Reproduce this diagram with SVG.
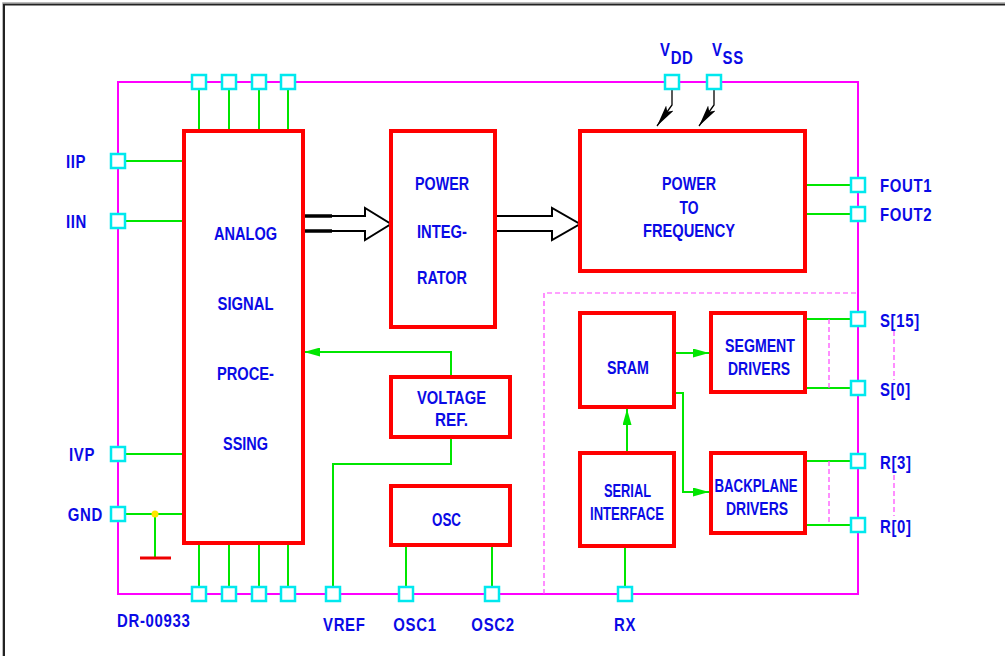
<svg xmlns="http://www.w3.org/2000/svg" width="1005" height="656" viewBox="0 0 1005 656">
<defs>
<style>
.t{font-family:"Liberation Sans",Arial,sans-serif;font-weight:bold;font-size:18px;fill:#0a0ae6;letter-spacing:0.8px}
.b{font-family:"Liberation Sans",Arial,sans-serif;font-weight:bold;font-size:18px;fill:#0a0ae6;text-anchor:middle}
.c{text-anchor:middle}
.e{text-anchor:end}
.blk{fill:#fff;stroke:#ff0000;stroke-width:4}
.pin{fill:#fff;stroke:#00e8ee;stroke-width:2.5}
.g{stroke:#00e600;stroke-width:2;fill:none}
.m{stroke:#ff00ff;stroke-width:2;fill:none}
.md{stroke:#ff44ff;stroke-width:1.2;fill:none;stroke-dasharray:5 3}
.ha{fill:#fff;stroke:#000;stroke-width:2}
</style>
<marker id="ga" viewBox="0 0 10 10" refX="10" refY="5" markerWidth="16" markerHeight="9" markerUnits="userSpaceOnUse" orient="auto" preserveAspectRatio="none"><path d="M0,0 L10,5 L0,10 z" fill="#00e600"/></marker>
<marker id="ka" viewBox="0 0 10 10" refX="10" refY="5" markerWidth="22" markerHeight="9" markerUnits="userSpaceOnUse" orient="auto" preserveAspectRatio="none"><path d="M0,0 L10,5 L0,10 L2,5 z" fill="#000"/></marker>
</defs>
<rect width="1005" height="656" fill="#fff"/>
<path d="M4,656 V4.5 H1005" fill="none" stroke="#222" stroke-width="2"/>
<path d="M2.5,656 V2.5 H1005" fill="none" stroke="#bbb" stroke-width="1"/>
<!-- chip outline -->
<rect x="118" y="82" width="740" height="512" class="m"/>
<path d="M544,594 V293 H858" class="md"/>

<g id="connectors">
<line x1="199" y1="89" x2="199" y2="131" class="g" stroke-width="1.5"/>
<line x1="229" y1="89" x2="229" y2="131" class="g"/>
<line x1="259" y1="89" x2="259" y2="131" class="g"/>
<line x1="288" y1="89" x2="288" y2="131" class="g"/>
<line x1="199" y1="543" x2="199" y2="587" class="g"/>
<line x1="229" y1="543" x2="229" y2="587" class="g"/>
<line x1="259" y1="543" x2="259" y2="587" class="g"/>
<line x1="288" y1="543" x2="288" y2="587" class="g"/>
<line x1="125" y1="161" x2="184" y2="161" class="g"/>
<line x1="125" y1="221" x2="184" y2="221" class="g"/>
<line x1="125" y1="454" x2="184" y2="454" class="g"/>
<line x1="125" y1="514" x2="184" y2="514" class="g"/>
<line x1="155" y1="514" x2="155" y2="558" class="g"/>
<line x1="140" y1="558" x2="171" y2="558" stroke="#ee0000" stroke-width="3"/>
<circle cx="155" cy="514" r="3.5" fill="#ffe600"/>
<polyline points="303,216 365,216 365,208 391,224 365,240 365,231 303,231" class="ha"/>
<line x1="303" y1="216" x2="332" y2="216" stroke="#000" stroke-width="3.5"/>
<line x1="303" y1="231" x2="332" y2="231" stroke="#000" stroke-width="3.5"/>
<polyline points="495,216 552,216 552,208 580,224 552,240 552,231 495,231" class="ha"/>
<polyline points="672,89 672,105 657,126" fill="none" stroke="#000" stroke-width="1.3" marker-end="url(#ka)"/>
<polyline points="714,89 714,105 699,126" fill="none" stroke="#000" stroke-width="1.3" marker-end="url(#ka)"/>
<line x1="805" y1="185" x2="851" y2="185" class="g"/>
<line x1="805" y1="214" x2="851" y2="214" class="g"/>
<polyline points="451,377 451,352 304,352" class="g" stroke-width="1.5" marker-end="url(#ga)"/>
<polyline points="451,437 451,464 333,464 333,587" class="g"/>
<line x1="406" y1="545" x2="406" y2="587" class="g"/>
<line x1="492" y1="545" x2="492" y2="587" class="g"/>
<line x1="627" y1="453" x2="627" y2="409" class="g" stroke-width="1.5" marker-end="url(#ga)"/>
<line x1="625" y1="546" x2="625" y2="587" class="g"/>
<line x1="674" y1="353" x2="709" y2="353" class="g" stroke-width="1.5" marker-end="url(#ga)"/>
<polyline points="674,393 683,393 683,492 709,492" class="g" stroke-width="1.3" marker-end="url(#ga)"/>
<line x1="805" y1="319" x2="851" y2="319" class="g"/>
<line x1="805" y1="388" x2="851" y2="388" class="g"/>
<line x1="805" y1="461" x2="851" y2="461" class="g"/>
<line x1="805" y1="525" x2="851" y2="525" class="g"/>
<line x1="829" y1="319" x2="829" y2="388" class="md"/>
<line x1="829" y1="461" x2="829" y2="525" class="md"/>
<line x1="894" y1="331" x2="894" y2="380" class="md"/>
<line x1="894" y1="475" x2="894" y2="516" class="md"/>
</g>

<g id="pins">
<rect x="192" y="75" width="14" height="14" class="pin"/>
<rect x="222" y="75" width="14" height="14" class="pin"/>
<rect x="252" y="75" width="14" height="14" class="pin"/>
<rect x="281" y="75" width="14" height="14" class="pin"/>
<rect x="665" y="75" width="14" height="14" class="pin"/>
<rect x="707" y="75" width="14" height="14" class="pin"/>
<rect x="111" y="154" width="14" height="14" class="pin"/>
<rect x="111" y="214" width="14" height="14" class="pin"/>
<rect x="111" y="447" width="14" height="14" class="pin"/>
<rect x="111" y="507" width="14" height="14" class="pin"/>
<rect x="192" y="587" width="14" height="14" class="pin"/>
<rect x="222" y="587" width="14" height="14" class="pin"/>
<rect x="252" y="587" width="14" height="14" class="pin"/>
<rect x="281" y="587" width="14" height="14" class="pin"/>
<rect x="326" y="587" width="14" height="14" class="pin"/>
<rect x="399" y="587" width="14" height="14" class="pin"/>
<rect x="485" y="587" width="14" height="14" class="pin"/>
<rect x="618" y="587" width="14" height="14" class="pin"/>
<rect x="851" y="178" width="14" height="14" class="pin"/>
<rect x="851" y="207" width="14" height="14" class="pin"/>
<rect x="851" y="312" width="14" height="14" class="pin"/>
<rect x="851" y="381" width="14" height="14" class="pin"/>
<rect x="851" y="454" width="14" height="14" class="pin"/>
<rect x="851" y="518" width="14" height="14" class="pin"/>
</g>

<g id="asp">
<rect x="184" y="131" width="119" height="412" class="blk"/>
<text class="b" x="245.5" y="240" textLength="63" lengthAdjust="spacingAndGlyphs">ANALOG</text>
<text class="b" x="245.5" y="310" textLength="56" lengthAdjust="spacingAndGlyphs">SIGNAL</text>
<text class="b" x="245.5" y="380" textLength="57" lengthAdjust="spacingAndGlyphs">PROCE-</text>
<text class="b" x="245.5" y="450" textLength="45" lengthAdjust="spacingAndGlyphs">SSING</text>
</g>
<g id="power-integrator">
<rect x="391" y="131" width="104" height="196" class="blk"/>
<text class="b" x="442" y="190" textLength="54" lengthAdjust="spacingAndGlyphs">POWER</text>
<text class="b" x="442" y="238" textLength="50" lengthAdjust="spacingAndGlyphs">INTEG-</text>
<text class="b" x="442" y="284" textLength="50" lengthAdjust="spacingAndGlyphs">RATOR</text>
</g>
<g id="power-to-frequency">
<rect x="580" y="131" width="225" height="140" class="blk"/>
<text class="b" x="689" y="190" textLength="54" lengthAdjust="spacingAndGlyphs">POWER</text>
<text class="b" x="689" y="214" textLength="19" lengthAdjust="spacingAndGlyphs">TO</text>
<text class="b" x="689" y="237" textLength="92" lengthAdjust="spacingAndGlyphs">FREQUENCY</text>
</g>
<g id="voltage-ref">
<rect x="391" y="377" width="119" height="60" class="blk"/>
<text class="b" x="451.5" y="404" textLength="69" lengthAdjust="spacingAndGlyphs">VOLTAGE</text>
<text class="b" x="451.5" y="426" textLength="33" lengthAdjust="spacingAndGlyphs">REF.</text>
</g>
<g id="osc">
<rect x="391" y="486" width="119" height="59" class="blk"/>
<text class="b" x="446.5" y="526" textLength="29" lengthAdjust="spacingAndGlyphs">OSC</text>
</g>
<g id="sram">
<rect x="580" y="313" width="94" height="94" class="blk"/>
<text class="b" x="628" y="374" textLength="42" lengthAdjust="spacingAndGlyphs">SRAM</text>
</g>
<g id="serial-interface">
<rect x="580" y="453" width="94" height="93" class="blk"/>
<text class="b" x="627.5" y="497" textLength="47" lengthAdjust="spacingAndGlyphs">SERIAL</text>
<text class="b" x="627" y="520" textLength="74" lengthAdjust="spacingAndGlyphs">INTERFACE</text>
</g>
<g id="segment-drivers">
<rect x="711" y="313" width="94" height="79" class="blk"/>
<text class="b" x="760" y="352" textLength="70" lengthAdjust="spacingAndGlyphs">SEGMENT</text>
<text class="b" x="759" y="375" textLength="62" lengthAdjust="spacingAndGlyphs">DRIVERS</text>
</g>
<g id="backplane-drivers">
<rect x="711" y="453" width="94" height="80" class="blk"/>
<text class="b" x="756" y="492" textLength="83" lengthAdjust="spacingAndGlyphs">BACKPLANE</text>
<text class="b" x="757" y="515" textLength="62" lengthAdjust="spacingAndGlyphs">DRIVERS</text>
</g>

<g id="labels" transform="scale(0.83,1)">
<text class="t" x="79.5" y="168">IIP</text>
<text class="t" x="79.5" y="228">IIN</text>
<text class="t e" x="114.5" y="461">IVP</text>
<text class="t e" x="124.1" y="521">GND</text>
<text class="t" x="141.0" y="627">DR-00933</text>
<text class="t" x="389.2" y="631">VREF</text>
<text class="t c" x="500.0" y="631">OSC1</text>
<text class="t c" x="594.0" y="631">OSC2</text>
<text class="t c" x="753.0" y="631">RX</text>
<text class="t" x="1060.2" y="192">FOUT1</text>
<text class="t" x="1060.2" y="221">FOUT2</text>
<text class="t" x="1060.2" y="327">S[15]</text>
<text class="t" x="1060.2" y="396">S[0]</text>
<text class="t" x="1060.2" y="469">R[3]</text>
<text class="t" x="1060.2" y="533">R[0]</text>
<text class="t" x="795.2" y="56">V<tspan dy="8">DD</tspan></text>
<text class="t" x="857.8" y="56">V<tspan dy="8">SS</tspan></text>
</g>
</svg>
